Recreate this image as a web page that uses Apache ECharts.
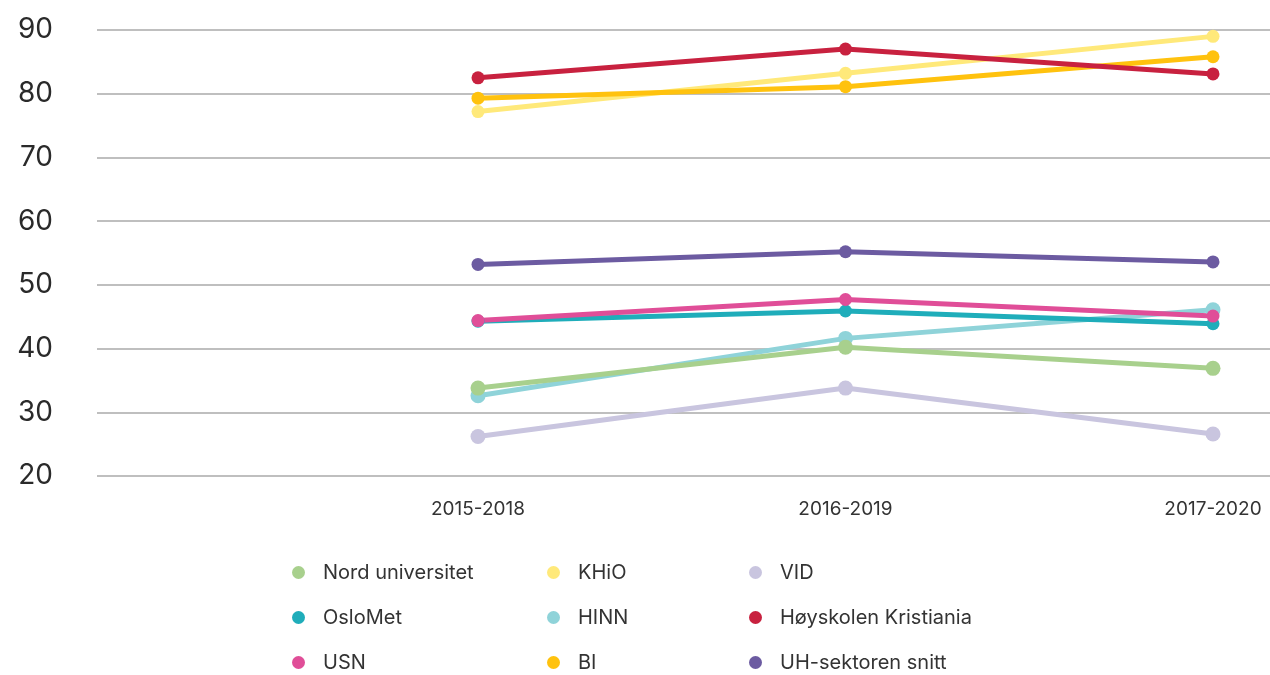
<!DOCTYPE html>
<html>
<head>
<meta charset="utf-8">
<script src="https://cdn.jsdelivr.net/npm/echarts@6/dist/echarts.min.js"></script>
<style>
  html, body { margin: 0; padding: 0; background: #fff; }
  #chart { width: 1270px; height: 675px; }
</style>
</head>
<body>
<div id="chart"></div>
<script>
var periods = ['2015-2018', '2016-2019', '2017-2020'];
var yTicks = [20, 30, 40, 50, 60, 70, 80, 90];

var nord = [33.8, 40.2, 36.9];
var osloMet = [44.3, 45.9, 43.9];
var usn = [44.4, 47.7, 45.1];
var khio = [77.2, 83.2, 89.0];
var hinn = [32.6, 41.6, 46.1];
var bi = [79.3, 81.1, 85.8];
var vid = [26.2, 33.8, 26.6];
var kristiania = [82.5, 87.0, 83.1];
var uhSnitt = [53.2, 55.2, 53.6];

var font = 'Inter, "Noto Sans", sans-serif';
var chart = echarts.init(document.getElementById('chart'));

function line(name, data, color, size) {
  return {
    name: name,
    type: 'line',
    xAxisIndex: 1,
    yAxisIndex: 1,
    data: data,
    symbol: 'circle',
    symbolSize: size || 13,
    lineStyle: { width: 5, color: color },
    itemStyle: { color: color },
    emphasis: { disabled: true }
  };
}

function legendCol(left, names) {
  return {
    orient: 'vertical',
    left: left,
    top: 562,
    padding: 0,
    itemGap: 24,
    itemWidth: 13,
    itemHeight: 13,
    icon: 'circle',
    data: names,
    selectedMode: false,
    textStyle: { fontFamily: font, fontSize: 20, lineHeight: 21, color: '#333', padding: [0, 0, 0, 13] }
  };
}

var options = {
  animation: false,
  grid: [
    { left: 97, right: 0, top: 30, bottom: 199 },
    { left: 478, right: 57, top: 30, bottom: 199 }
  ],
  xAxis: [
    { type: 'category', gridIndex: 0, data: periods, show: false },
    {
      type: 'category', gridIndex: 1, data: periods, boundaryGap: false,
      axisLine: { show: false }, axisTick: { show: false },
      axisLabel: { margin: 24, fontFamily: font, fontSize: 19, color: '#333' }
    }
  ],
  yAxis: [
    {
      type: 'value', gridIndex: 0, min: 20, max: 90, interval: 10,
      axisLine: { show: false }, axisTick: { show: false },
      axisLabel: { margin: 44, fontFamily: font, fontSize: 28, color: '#2a2a2a',
        formatter: function (v) { return yTicks.indexOf(v) >= 0 ? v : ''; } },
      splitLine: { lineStyle: { color: '#aaaaaa', width: 1.5 } }
    },
    {
      type: 'value', gridIndex: 1, min: 20, max: 90, interval: 10, show: false,
      splitLine: { show: false }
    }
  ],
  legend: [
    legendCol(292, ['Nord universitet', 'OsloMet', 'USN']),
    legendCol(547, ['KHiO', 'HINN', 'BI']),
    legendCol(749, ['VID', 'Høyskolen Kristiania', 'UH-sektoren snitt'])
  ],
  series: [
    line('HINN', hinn, '#8fd3d9', 15),
    line('VID', vid, '#c9c5df', 15),
    line('KHiO', khio, '#ffe97a'),
    line('BI', bi, '#ffc20e'),
    line('Høyskolen Kristiania', kristiania, '#c8213f'),
    line('UH-sektoren snitt', uhSnitt, '#6c5ba1'),
    line('OsloMet', osloMet, '#1fadba'),
    line('USN', usn, '#e04e98'),
    line('Nord universitet', nord, '#a8d08d', 15)
  ]
};
chart.setOption(options);
</script>
</body>
</html>
